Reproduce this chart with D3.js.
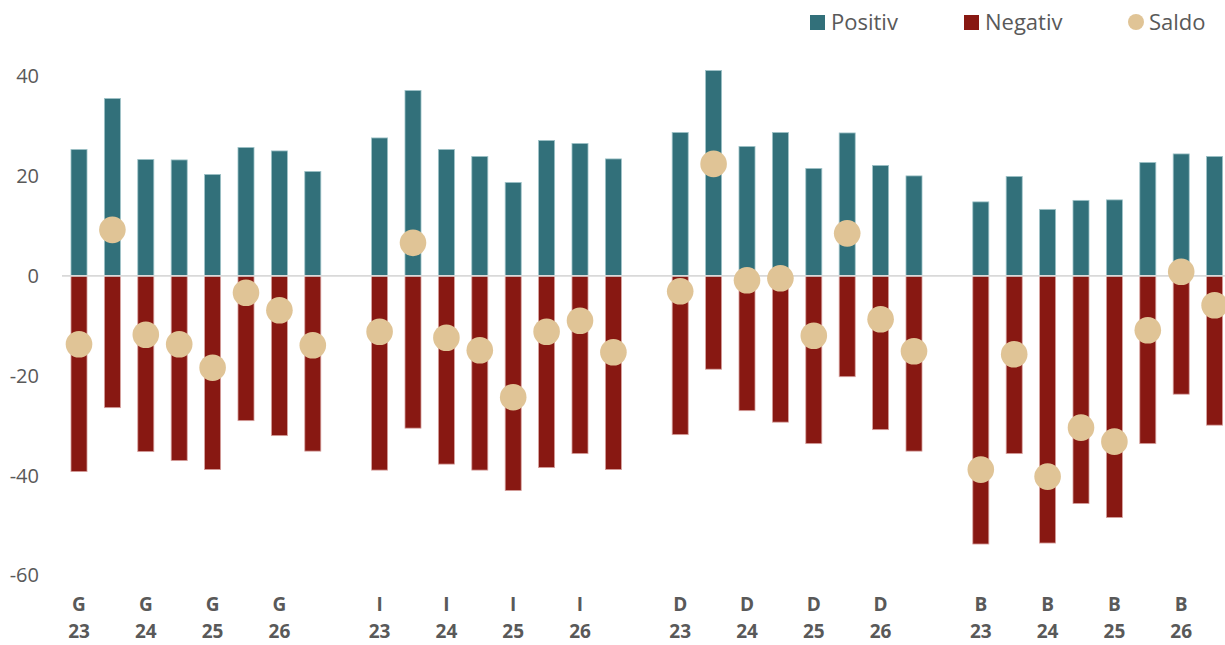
<!DOCTYPE html>
<html>
<head>
<meta charset="utf-8">
<script src="https://cdn.jsdelivr.net/npm/d3@7"></script>
<style>
  html, body { margin: 0; padding: 0; background: #fff; }
  svg { display: block; font-family: "Open Sans", sans-serif; }
</style>
</head>
<body>
<svg id="chart" width="1225" height="645"></svg>
<script>
// ---- data ----
const groups = ["G", "I", "D", "B"];
const years = ["23", "", "24", "", "25", "", "26", ""];
const positive = [25.3, 35.5, 23.3, 23.2, 20.3, 25.7, 25.0, 20.9,
                  27.6, 37.1, 25.3, 23.9, 18.7, 27.1, 26.5, 23.4,
                  28.7, 41.1, 25.9, 28.7, 21.5, 28.6, 22.1, 20.0,
                  14.8, 19.9, 13.3, 15.1, 15.2, 22.7, 24.4, 23.9];
const negative = [-39.2, -26.4, -35.2, -37.0, -38.8, -29.0, -32.0, -35.1,
                  -38.9, -30.5, -37.7, -38.9, -43.0, -38.4, -35.6, -38.8,
                  -31.8, -18.7, -27.0, -29.3, -33.6, -20.2, -30.8, -35.1,
                  -53.7, -35.6, -53.5, -45.6, -48.4, -33.6, -23.7, -29.9];
const saldo = [-13.7, 9.2, -11.8, -13.7, -18.4, -3.4, -6.9, -13.9,
               -11.2, 6.6, -12.4, -14.9, -24.3, -11.2, -9.0, -15.3,
               -3.1, 22.4, -0.9, -0.5, -12.0, 8.5, -8.7, -15.1,
               -38.8, -15.7, -40.2, -30.4, -33.2, -10.9, 0.8, -5.9];
const yTicks = [40, 20, 0, -20, -40, -60];
const seriesNames = ["Positiv", "Negativ", "Saldo"];

// ---- build slots (8 bars per group, one empty slot between groups) ----
const rows = [];
groups.forEach((g, gi) => {
  years.forEach((yr, k) => {
    const i = gi * 8 + k;
    rows.push({ slot: gi * 9 + k, group: g, year: yr,
                pos: positive[i], neg: negative[i], saldo: saldo[i] });
  });
});
const nSlots = groups.length * 9 - 1;

const svg = d3.select("#chart");
const colPos = "#32707a", colNeg = "#881812", colSal = "#e0c496", txt = "#595959";

const x = d3.scaleBand().domain(d3.range(nSlots))
  .range([62.3, 1231.3]).paddingInner(0.52).paddingOuter(0.26);
const y = d3.scaleLinear().domain([-60, 40]).range([575.5, 76]);

// y tick labels
const yAxis = d3.axisLeft(y).tickValues(yTicks).tickSize(0).tickPadding(0)
  .tickFormat(d => String(d));
const ga = svg.append("g").attr("transform", "translate(39,0)").call(yAxis);
ga.select(".domain").remove();
ga.selectAll("text").attr("fill", txt).style("font-size", "20px")
  .style("font-family", "'Open Sans', sans-serif");

// bars
const gBars = svg.append("g");
gBars.selectAll("rect.pos").data(rows).join("rect").attr("class", "pos")
  .attr("x", d => x(d.slot)).attr("width", x.bandwidth())
  .attr("y", d => y(d.pos)).attr("height", d => y(0) - y(d.pos))
  .attr("fill", colPos).attr("stroke", "#9fc3c8").attr("stroke-width", 0.8);
gBars.selectAll("rect.neg").data(rows).join("rect").attr("class", "neg")
  .attr("x", d => x(d.slot)).attr("width", x.bandwidth())
  .attr("y", y(0)).attr("height", d => y(d.neg) - y(0))
  .attr("fill", colNeg).attr("stroke", "#d8a3a0").attr("stroke-width", 0.8);

// zero line
svg.append("line").attr("x1", 62).attr("x2", 1225)
  .attr("y1", y(0)).attr("y2", y(0))
  .attr("stroke", "#d9d9d9").attr("stroke-width", 1.8);

// saldo markers
svg.append("g").selectAll("circle").data(rows).join("circle")
  .attr("cx", d => x(d.slot) + x.bandwidth() / 2)
  .attr("cy", d => y(d.saldo)).attr("r", 13.3)
  .attr("fill", colSal);

// x labels
const gx = svg.append("g").attr("font-weight", "bold").attr("fill", txt)
  .style("font-size", "19px").attr("text-anchor", "middle");
rows.filter(d => d.year !== "").forEach(d => {
  const cx = x(d.slot) + x.bandwidth() / 2;
  gx.append("text").attr("x", cx).attr("y", 611).text(d.group);
  gx.append("text").attr("x", cx).attr("y", 638).text(d.year);
});

// legend
const leg = svg.append("g").style("font-size", "22px").attr("fill", txt);
const legX = [810, 964, 1128];
seriesNames.forEach((name, i) => {
  const g = leg.append("g").attr("transform", `translate(${legX[i]},0)`);
  if (i < 2) {
    g.append("rect").attr("x", 0).attr("y", 15).attr("width", 15).attr("height", 15)
      .attr("fill", i === 0 ? colPos : colNeg);
  } else {
    g.append("circle").attr("cx", 8).attr("cy", 22).attr("r", 8).attr("fill", colSal);
  }
  g.append("text").attr("x", 21).attr("y", 30).text(name);
});
</script>
</body>
</html>
